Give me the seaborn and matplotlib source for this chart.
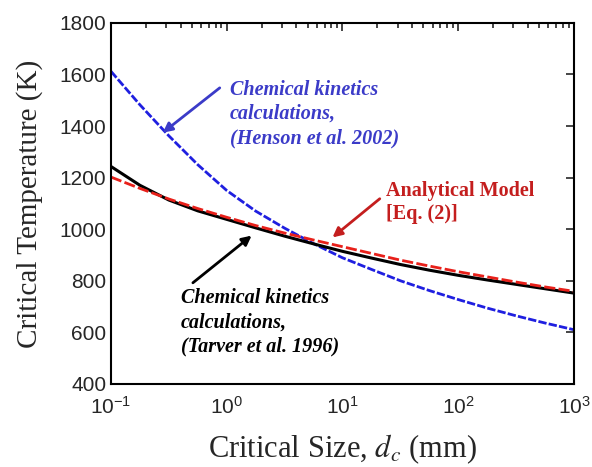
import numpy as np
import pandas as pd
import matplotlib
matplotlib.use("Agg")
import matplotlib.pyplot as plt
import seaborn as sns

# Critical size (mm), quarter-decade reading points
size_mm = [0.1, 0.178, 0.316, 0.562, 1, 1.78, 3.16, 5.62, 10, 17.8, 31.6, 56.2,
           100, 178, 316, 562, 1000]
# Critical temperature (K)
henson_2002 = [1612, 1482, 1362, 1250, 1150, 1070, 1004, 944, 889, 844, 800, 762,
               727, 694, 664, 636, 610]
tarver_1996 = [1243, 1170, 1113, 1071, 1038, 1005, 973, 943, 914, 888, 863, 841,
               821, 803, 786, 769, 752]
analytical = [1202, 1158, 1117, 1080, 1046, 1014, 985, 958, 932, 906, 880, 857,
              835, 815, 795, 776, 759]

x_ticks = [0.1, 1, 10, 100, 1000]
y_ticks = [400, 600, 800, 1000, 1200, 1400, 1600, 1800]

sns.set_style("white")
plt.rcParams["font.family"] = ["Liberation Sans", "DejaVu Sans"]
plt.rcParams["mathtext.fontset"] = "custom"
plt.rcParams["mathtext.rm"] = "Liberation Sans"
plt.rcParams["mathtext.it"] = "Liberation Sans:italic"
plt.rcParams["axes.unicode_minus"] = False

fig = plt.figure(figsize=(5.92, 4.67), dpi=100)
ax = fig.add_axes([0.1875, 0.178, 0.782, 0.773])

df = pd.DataFrame({"d": size_mm, "Henson": henson_2002,
                   "Tarver": tarver_1996, "Analytical": analytical})

sns.lineplot(data=df, x="d", y="Henson", ax=ax, color="#1f1fe0", lw=2.0)
sns.lineplot(data=df, x="d", y="Tarver", ax=ax, color="black", lw=2.2)
sns.lineplot(data=df, x="d", y="Analytical", ax=ax, color="#e8201a", lw=2.0)
ax.lines[0].set_dashes((3, 0.8))
ax.lines[2].set_dashes((4, 1.2))

ax.set_xscale("log")
ax.set_xlim(0.1, 1000)
ax.set_ylim(400, 1800)
ax.set_xticks(x_ticks)
ax.set_yticks(y_ticks)
ax.tick_params(axis="both", which="both", direction="in", top=True, right=True,
               labelsize=15, width=1.2)
ax.tick_params(axis="both", which="major", length=6)
ax.tick_params(axis="x", which="minor", length=3.5)
ax.tick_params(axis="x", which="major", pad=9)
for sp in ax.spines.values():
    sp.set_linewidth(1.5)
    sp.set_color("black")

serif = ["Liberation Serif", "DejaVu Serif"]
ax.set_xlabel(r"Critical Size, $d_c$ (mm)", family=serif, fontsize=22, labelpad=10)
ax.set_ylabel("Critical Temperature (K)", family=serif, fontsize=21, labelpad=12)
ax.xaxis.label.set_math_fontfamily("stix")

blue_txt = "#3b3bc8"
red_txt = "#c41e1e"
arrow_kw = dict(arrowstyle="-|>", lw=2, mutation_scale=14, shrinkA=0, shrinkB=0)
fs = 14.5

# Henson annotation
ax.text(1.06, 1580, "Chemical kinetics\ncalculations,\n(Henson et al. 2002)",
        family=serif, fontsize=fs, style="italic", weight="bold",
        color=blue_txt, ha="left", va="top", linespacing=1.28)
ax.annotate("", xy=(0.28, 1374), xytext=(0.87, 1548),
            arrowprops=dict(color=blue_txt, **arrow_kw))

# Analytical annotation
ax.text(24, 1188, "Analytical Model\n[Eq. (2)]",
        family=serif, fontsize=fs, weight="bold",
        color=red_txt, ha="left", va="top", linespacing=1.2)
ax.annotate("", xy=(8.2, 968), xytext=(21, 1118),
            arrowprops=dict(color=red_txt, **arrow_kw))

# Tarver annotation
ax.text(0.40, 770, "Chemical kinetics\ncalculations,\n(Tarver et al. 1996)",
        family=serif, fontsize=fs, style="italic", weight="bold",
        color="black", ha="left", va="top", linespacing=1.28)
ax.annotate("", xy=(1.64, 975), xytext=(0.51, 792),
            arrowprops=dict(color="black", **arrow_kw))

fig.savefig("out.png", dpi=100)
